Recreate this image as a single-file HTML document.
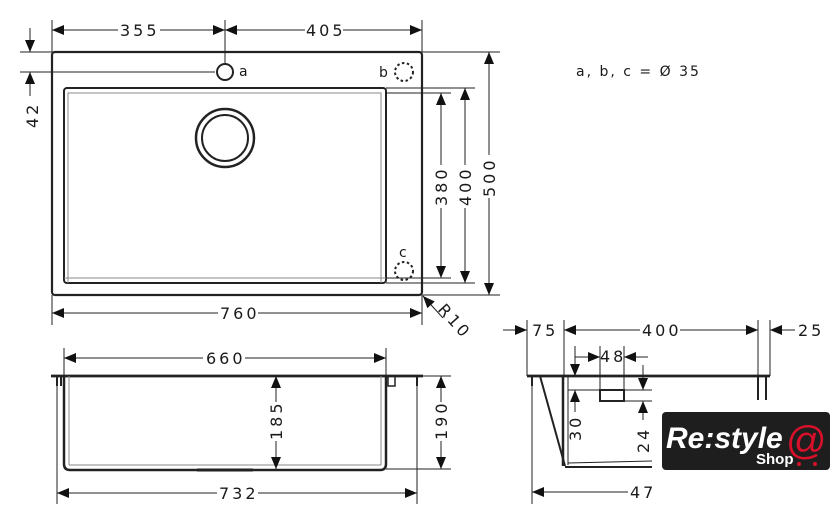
<!DOCTYPE html>
<html><head><meta charset="utf-8"><style>
html,body{margin:0;padding:0;background:#fff;width:840px;height:524px;overflow:hidden}
svg{display:block}
text{font-family:"DejaVu Sans","Liberation Sans",sans-serif;font-size:16px;fill:#1a1a1a;letter-spacing:3px}
</style></head><body>
<svg width="840" height="524" viewBox="0 0 840 524" xmlns="http://www.w3.org/2000/svg">
<defs>
<marker id="ar" markerUnits="userSpaceOnUse" markerWidth="14" markerHeight="10" refX="12" refY="5" orient="auto-start-reverse">
<path d="M0,0 L12,5 L0,10 z" fill="#111"/></marker>
</defs>
<g stroke="#222" fill="none" stroke-width="1">
<rect x="52" y="52" width="370" height="243" rx="3" stroke-width="2.2"/>
<rect x="64" y="88" width="322" height="195" rx="3" stroke-width="2"/>
<path d="M68 283 V93 H381 V283" stroke="#888"/>
<line x1="64" y1="278" x2="386" y2="278" stroke="#888"/>
<circle cx="225" cy="138" r="29" stroke-width="2.5"/>
<circle cx="225" cy="138" r="23" stroke-width="2"/>
<circle cx="225" cy="72" r="8" stroke-width="2"/>
<circle cx="404" cy="72" r="9" stroke-width="2" stroke-dasharray="2.5,2.5"/>
<circle cx="404" cy="271" r="9" stroke-width="2" stroke-dasharray="2.5,2.5"/>
<line x1="52" y1="20" x2="52" y2="52"/><line x1="225" y1="20" x2="225" y2="63"/><line x1="422" y1="20" x2="422" y2="52"/>
<line x1="52" y1="30" x2="118" y2="30" marker-start="url(#ar)"/><line x1="160" y1="30" x2="225" y2="30" marker-end="url(#ar)"/>
<line x1="225" y1="30" x2="305" y2="30" marker-start="url(#ar)"/><line x1="343" y1="30" x2="422" y2="30" marker-end="url(#ar)"/>
<line x1="20" y1="52" x2="52" y2="52"/><line x1="20" y1="72" x2="215" y2="72"/>
<line x1="30" y1="28" x2="30" y2="52" marker-end="url(#ar)"/><line x1="30" y1="72" x2="30" y2="96" marker-start="url(#ar)"/>
<line x1="422" y1="52" x2="500" y2="52"/><line x1="422" y1="295" x2="500" y2="295"/>
<line x1="386" y1="88" x2="475" y2="88"/><line x1="386" y1="283" x2="475" y2="283"/>
<line x1="386" y1="93" x2="451" y2="93"/><line x1="386" y1="278" x2="451" y2="278"/>
<line x1="441" y1="93" x2="441" y2="165" marker-start="url(#ar)"/><line x1="441" y1="208" x2="441" y2="278" marker-end="url(#ar)"/>
<line x1="465" y1="88" x2="465" y2="165" marker-start="url(#ar)"/><line x1="465" y1="208" x2="465" y2="283" marker-end="url(#ar)"/>
<line x1="489" y1="52" x2="489" y2="155" marker-start="url(#ar)"/><line x1="489" y1="198" x2="489" y2="295" marker-end="url(#ar)"/>
<line x1="52" y1="295" x2="52" y2="325"/><line x1="422" y1="295" x2="422" y2="325"/>
<line x1="52" y1="313" x2="218" y2="313" marker-start="url(#ar)"/><line x1="258" y1="313" x2="422" y2="313" marker-end="url(#ar)"/>
<line x1="443" y1="318" x2="423" y2="296" marker-end="url(#ar)"/>
<line x1="51" y1="376" x2="423" y2="376" stroke-width="2.8"/>
<path d="M64 376 V464 Q64 470 70 470 H380 Q386 470 386 464 V376" stroke-width="2.5"/>
<line x1="69" y1="376" x2="69" y2="465" stroke="#888"/><line x1="381" y1="376" x2="381" y2="465" stroke="#888"/>
<line x1="69" y1="465" x2="381" y2="465" stroke="#888"/>
<line x1="197" y1="470" x2="253" y2="470" stroke-width="3"/>
<line x1="57" y1="376" x2="57" y2="386" stroke-width="2"/><line x1="61" y1="376" x2="61" y2="386" stroke-width="2"/>
<path d="M388 376 V386 H395 V376" stroke-width="1.5"/>
<line x1="417" y1="376" x2="417" y2="386" stroke-width="2"/>
<line x1="57" y1="386" x2="57" y2="504"/><line x1="417" y1="386" x2="417" y2="504"/>
<line x1="64" y1="348" x2="64" y2="376"/><line x1="386" y1="348" x2="386" y2="376"/>
<line x1="64" y1="358" x2="203" y2="358" marker-start="url(#ar)"/><line x1="245" y1="358" x2="386" y2="358" marker-end="url(#ar)"/>
<line x1="57" y1="493" x2="217" y2="493" marker-start="url(#ar)"/><line x1="258" y1="493" x2="417" y2="493" marker-end="url(#ar)"/>
<line x1="276" y1="376" x2="276" y2="402" marker-start="url(#ar)"/><line x1="276" y1="441" x2="276" y2="469" marker-end="url(#ar)"/>
<line x1="423" y1="376" x2="451" y2="376"/><line x1="386" y1="469" x2="451" y2="469"/>
<line x1="441" y1="376" x2="441" y2="402" marker-start="url(#ar)"/><line x1="441" y1="441" x2="441" y2="469" marker-end="url(#ar)"/>
<line x1="527" y1="376" x2="770" y2="376" stroke-width="2.8"/>
<line x1="532" y1="376" x2="532" y2="386" stroke-width="2"/>
<line x1="532" y1="386" x2="532" y2="504"/>
<line x1="540" y1="376" x2="565" y2="466" stroke-width="2"/>
<line x1="563" y1="376" x2="563" y2="466" stroke-width="2.5"/>
<line x1="568" y1="376" x2="568" y2="465"/>
<line x1="565" y1="467" x2="652" y2="467" stroke-width="2"/>
<line x1="568" y1="463" x2="652" y2="461"/>
<line x1="568" y1="390" x2="652" y2="390"/>
<rect x="600" y="390" width="24" height="11" stroke-width="2"/>
<line x1="624" y1="401" x2="652" y2="401"/>
<line x1="758" y1="376" x2="758" y2="400" stroke-width="2"/><line x1="766" y1="376" x2="766" y2="400" stroke-width="2"/>
<line x1="527" y1="320" x2="527" y2="376"/><line x1="564" y1="320" x2="564" y2="376"/>
<line x1="758" y1="320" x2="758" y2="376"/><line x1="770" y1="320" x2="770" y2="376"/>
<line x1="503" y1="330" x2="527" y2="330" marker-end="url(#ar)"/>
<line x1="564" y1="330" x2="640" y2="330" marker-start="url(#ar)"/><line x1="680" y1="330" x2="758" y2="330" marker-end="url(#ar)"/>
<line x1="795" y1="330" x2="770" y2="330" marker-end="url(#ar)"/>
<line x1="575" y1="346" x2="575" y2="376"/><line x1="600" y1="346" x2="600" y2="390"/><line x1="624" y1="346" x2="624" y2="390"/>
<line x1="575" y1="357" x2="600" y2="357" marker-end="url(#ar)"/><line x1="648" y1="357" x2="624" y2="357" marker-end="url(#ar)"/>
<line x1="575" y1="362" x2="575" y2="376" marker-end="url(#ar)"/><line x1="575" y1="390" x2="575" y2="412" marker-start="url(#ar)"/>
<line x1="643" y1="365" x2="643" y2="390" marker-end="url(#ar)"/><line x1="643" y1="401" x2="643" y2="420" marker-start="url(#ar)"/>
<line x1="532" y1="492" x2="628" y2="492" marker-start="url(#ar)"/>
</g>
<g>
<text x="120" y="36">355</text>
<text x="306" y="36">405</text>
<text x="220" y="319">760</text>
<text x="239" y="76" style="font-size:14px">a</text>
<text x="379" y="77" style="font-size:14px">b</text>
<text x="399" y="257" style="font-size:14px">c</text>
<text x="576" y="76" style="font-size:14px;letter-spacing:2px">a, b, c = Ø 35</text>
<text transform="translate(38,128) rotate(-90)">42</text>
<text transform="translate(447,206) rotate(-90)">380</text>
<text transform="translate(471,206) rotate(-90)">400</text>
<text transform="translate(495,197) rotate(-90)">500</text>
<text transform="translate(437,310) rotate(48)">R10</text>
<text x="206" y="364">660</text>
<text x="219" y="499">732</text>
<text transform="translate(282,440) rotate(-90)">185</text>
<text transform="translate(447,440) rotate(-90)">190</text>
<text x="532" y="336">75</text>
<text x="642" y="336">400</text>
<text x="798" y="336">25</text>
<text x="600" y="362">48</text>
<text transform="translate(581,441) rotate(-90)">30</text>
<text transform="translate(649,453) rotate(-90)">24</text>
<text x="630" y="498">47</text>
</g>
<rect x="662" y="412" width="168" height="58" rx="4" fill="#1e1e1e"/>
<text x="666" y="448" style="font-family:'Liberation Sans',sans-serif;font-size:30px;font-style:italic;font-weight:bold;fill:#fff;letter-spacing:0">Re:style</text>
<text x="756" y="464" style="font-family:'Liberation Sans',sans-serif;font-size:15px;font-weight:bold;fill:#fff;letter-spacing:0">Shop</text>
<text x="786" y="454" style="font-family:'Liberation Sans',sans-serif;font-size:40px;fill:#d8102a;letter-spacing:0">@</text>
<circle cx="799" cy="464" r="2" fill="#d8102a"/><circle cx="815" cy="464" r="2" fill="#d8102a"/>
</svg>
</body></html>
